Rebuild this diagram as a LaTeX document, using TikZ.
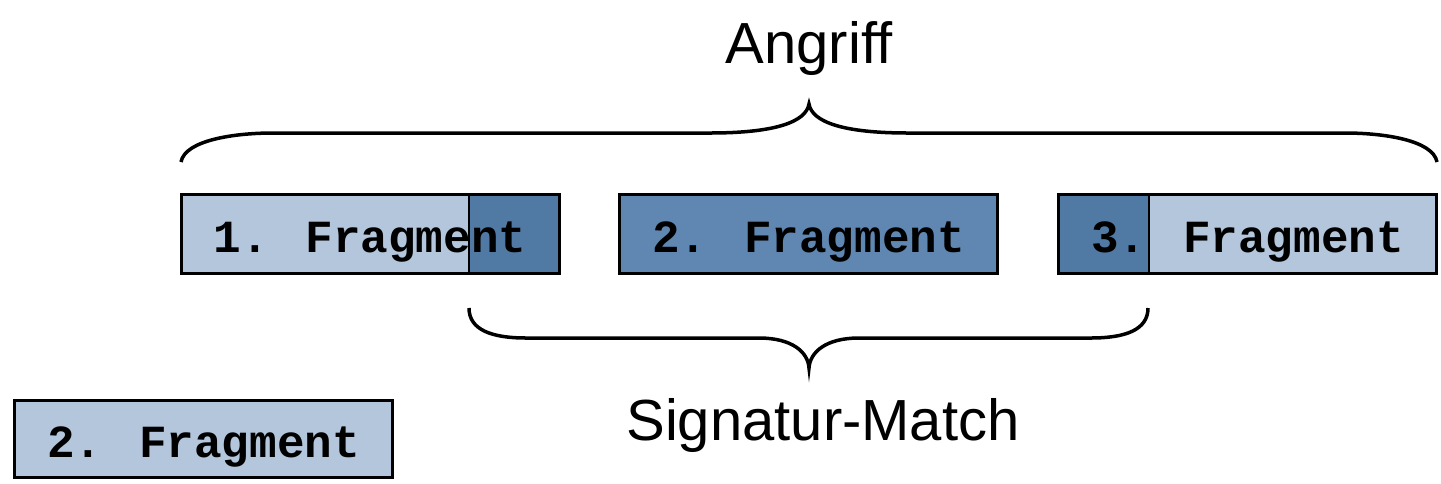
\documentclass[tikz,border=0pt]{standalone}
\usepackage{fontspec}
\setmainfont{Liberation Sans}
\newfontfamily\fragfont{Liberation Mono}
\definecolor{fraglight}{HTML}{B3C6DB}
\definecolor{fragdark}{HTML}{507AA4}
\definecolor{fragmid}{HTML}{5F87B1}
\begin{document}
\begin{tikzpicture}[x=1pt,y=-1pt,
  fragbox/.style={draw=black, line width=3pt, minimum width=378pt, minimum height=79pt,
    inner sep=0pt, text height=38pt, text depth=0pt,
    font=\fragfont\bfseries\fontsize{46}{46}\selectfont},
  darkright/.style={path picture={
    \fill[fragdark] ([xshift=-90pt]path picture bounding box.north east) rectangle (path picture bounding box.south east);
    \draw[line width=2pt] ([xshift=-90pt]path picture bounding box.north east) -- ([xshift=-90pt]path picture bounding box.south east);}},
  darkleft/.style={path picture={
    \fill[fragdark] (path picture bounding box.north west) rectangle ([xshift=90pt]path picture bounding box.south west);
    \draw[line width=2pt] ([xshift=90pt]path picture bounding box.north west) -- ([xshift=90pt]path picture bounding box.south west);}},
  brace/.style={draw=black, line width=3.5pt},
  caption/.style={font=\fontsize{58}{58}\selectfont, anchor=base}]
\useasboundingbox (0,0) rectangle (1441,483);

% fragments of the attack
\node[fragbox, fill=fraglight, darkright] (frag1) at (370,233.5) {1. Fragment};
\node[fragbox, fill=fragmid] (frag2) at (808.5,233.5) {2. Fragment};
\node[fragbox, fill=fraglight, darkleft] (frag3) at (1247.5,233.5) {3. Fragment};
\node[fragbox, fill=fraglight, minimum height=77pt] (single) at (203.5,438.5) {2. Fragment};

% brace over the whole attack
\coordinate (topL) at (181,162);
\coordinate (topR) at (1437,162);
\coordinate (topTip) at (809,104);
\draw[brace] (topL) .. controls (185,140) and (235,133) .. (273,133) -- (710,133)
  .. controls (775,133) and (806,122) .. (topTip)
  .. controls (812,122) and (843,133) .. (908,133) -- (1345,133)
  .. controls (1383,133) and (1433,140) .. (topR);
\node[caption] (angriff) at (809,63) {Angriff};

% brace under the matched signature
\coordinate (botL) at (469,308);
\coordinate (botR) at (1148,308);
\coordinate (botTip) at (809,368);
\draw[brace] (botL) .. controls (469,330) and (492,338) .. (526,338) -- (759,338)
  .. controls (792,338) and (808,352) .. (botTip)
  .. controls (810,352) and (826,338) .. (859,338) -- (1091,338)
  .. controls (1125,338) and (1148,330) .. (botR);
\node[caption] (match) at (823,440) {Signatur-Match};
\end{tikzpicture}
\end{document}
